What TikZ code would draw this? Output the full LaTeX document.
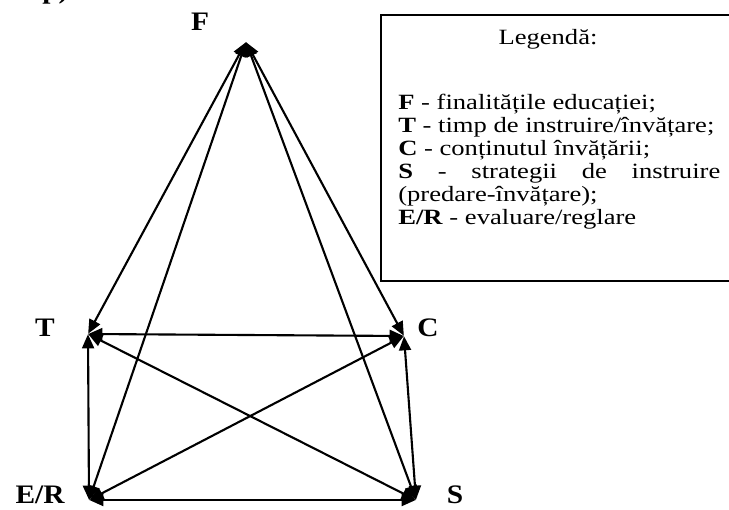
\documentclass[tikz,border=0pt]{standalone}
\usepackage{fontspec}
\setmainfont{Liberation Serif}
\newfontfamily\legfont[FakeStretch=1.22]{Liberation Serif}
\newfontfamily\lblfont[FakeStretch=1.1]{Liberation Serif}
\usepackage{tikz}
\usetikzlibrary{arrows.meta}

\tikzset{
    vertex/.style={inner sep=0pt, minimum size=0pt},
    vlabel/.style={font=\lblfont\fontsize{19}{21}\selectfont\bfseries},
    legline/.style={anchor=base west, inner sep=0pt, font=\legfont\fontsize{15.5}{17}\selectfont},
    link/.style={line width=1.5pt, {Triangle[length=10pt,width=8.5pt]}-{Triangle[length=10pt,width=8.5pt]}}
}

\begin{document}
\begin{tikzpicture}[x=0.025cm, y=-0.025cm]
                    \useasboundingbox (0,0) rectangle (729,510);

                    % varfurile
                    \node[vertex] (F) at (246,42) {};
                    \node[vertex] (T) at (88,334) {};
                    \node[vertex] (C) at (404,336) {};
                    \node[vertex] (ER) at (89,500) {};
                    \node[vertex] (S) at (416,500) {};

                    \node[vlabel] (lF) at (200,22) {F};
                    \node[vlabel] (lT) at (45,328) {T};
                    \node[vlabel] (lC) at (428,328) {C};
                    \node[vlabel] (lER) at (40,495) {E/R};
                    \node[vlabel] (lS) at (455,495) {S};

                    % fragment taiat sus
                    \node[anchor=base west, inner sep=0pt, font=\lblfont\fontsize{19}{21}\selectfont\bfseries] (frag) at (42,-1) {p)};

                    \foreach \a/\b in {F/T, F/C, F/ER, F/S, T/C, T/ER, T/S, C/ER, C/S, ER/S}
                        \draw[link] (\a) -- (\b);

                    % legenda
                    \draw[line width=1.2pt] (740,15) -- (381,15) -- (381,281) -- (740,281);
                    \node[legline, anchor=base] (legT) at (548,45) {Legendă:};
                    \node[legline] (l1) at (398,110) {\textbf{F} - finalitățile educației;};
                    \node[legline] (l2) at (398,133) {\textbf{T} - timp de instruire/învățare;};
                    \node[legline] (l3) at (398,156) {\textbf{C} - conținutul învățării;};
                    \node[legline] (l4) at (398,179) {\hbox to 229pt{\textbf{S}\hfill-\hfill strategii\hfill de\hfill instruire}};
                    \node[legline] (l5) at (398,202) {(predare-învățare);};
                    \node[legline] (l6) at (398,225) {\textbf{E/R} - evaluare/reglare};
                \end{tikzpicture}
\end{document}
